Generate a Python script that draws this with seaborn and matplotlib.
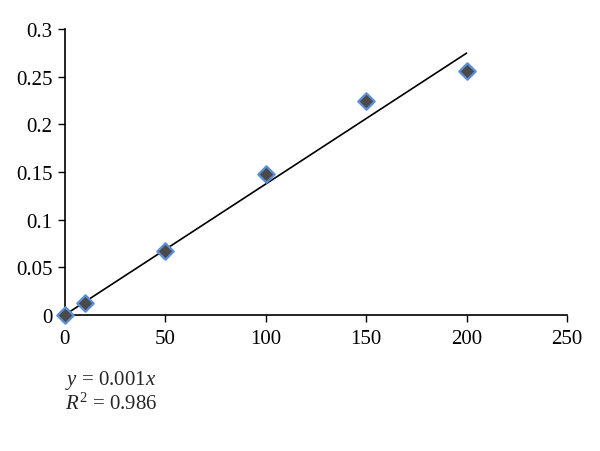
import numpy as np
import matplotlib.pyplot as plt
import seaborn as sns

sns.set_style("white")
plt.rcParams['font.family'] = ['Liberation Serif', 'DejaVu Serif']
plt.rcParams['mathtext.fontset'] = 'custom'
plt.rcParams['mathtext.rm'] = 'Liberation Serif'
plt.rcParams['mathtext.it'] = 'Liberation Serif:italic'

# data
conc = [0, 10, 50, 100, 150, 200]
absorb = [0.0, 0.013, 0.067, 0.148, 0.224, 0.256]
x_ticks = [0, 50, 100, 150, 200, 250]
y_ticks = [0, 0.05, 0.1, 0.15, 0.2, 0.25, 0.3]
y_labels = ['0', '0.05', '0.1', '0.15', '0.2', '0.25', '0.3']

# linear fit through origin
xa = np.array(conc, dtype=float)
ya = np.array(absorb)
slope = (xa * ya).sum() / (xa * xa).sum()

fig = plt.figure(figsize=(6, 4.52), dpi=100)
ax = fig.add_axes([0.108, 0.301, 0.837, 0.633])

sns.scatterplot(x=conc, y=absorb, marker='D', s=70, color='#4a4a4a',
                edgecolor='#5b8fd6', linewidth=1.6, zorder=3, ax=ax, clip_on=False)
xl = np.array([0, 200])
sns.lineplot(x=xl, y=slope * xl, color='black', linewidth=1.2, ax=ax, zorder=2)

ax.set_xlim(0, 250)
ax.set_ylim(0, 0.3)
ax.set_xticks(x_ticks)
ax.set_yticks(y_ticks)
ax.set_yticklabels(y_labels)
ax.tick_params(axis='both', labelsize=15, direction='out', length=5, width=1,
               left=True, bottom=True, colors='black')
ax.tick_params(axis='x', pad=5)
ax.tick_params(axis='y', pad=4)
for s in ['top', 'right']:
    ax.spines[s].set_visible(False)
for s in ['left', 'bottom']:
    ax.spines[s].set_color('black')
    ax.spines[s].set_linewidth(1.2)

fig.text(0.108, 0.159, r'$y$ = 0.001$x$', fontsize=15, va='center')
fig.text(0.108, 0.106, r'$R^2$ = 0.986', fontsize=15, va='center')

fig.savefig('out.png', dpi=100)
